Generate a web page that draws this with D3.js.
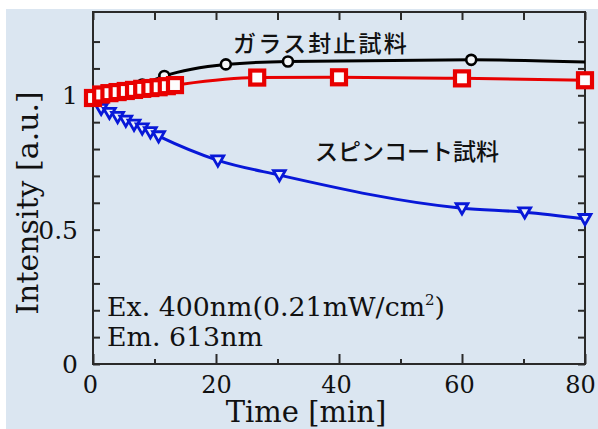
<!DOCTYPE html>
<html><head><meta charset="utf-8">
<script src="https://cdn.jsdelivr.net/npm/d3@7"></script>
<style>html,body{margin:0;padding:0;background:#fff;}svg{display:block;}</style>
</head><body>
<script>
// ---- data ----
const tBlack = [0, 4, 8, 11.6, 21.6, 31.7, 61.5, 84];
const vBlack = [1.0, 1.02, 1.04, 1.072, 1.115, 1.126, 1.132, 1.121];
const tRed = [0, 1.33, 2.67, 4, 5.33, 6.67, 8, 9.33, 10.67, 12, 13.33, 26.7, 40, 60, 80];
const vRed = [0.99, 1.003, 1.008, 1.012, 1.016, 1.02, 1.024, 1.027, 1.03, 1.034, 1.038, 1.066, 1.067, 1.063, 1.056];
const tBlue = [0, 1.33, 2.67, 4, 5.33, 6.67, 8, 9.33, 10.67, 20.3, 30.3, 60, 70.2, 80];
const vBlue = [1.0, 0.95, 0.935, 0.92, 0.906, 0.891, 0.877, 0.863, 0.848, 0.758, 0.703, 0.58, 0.565, 0.54];
const xMajor = [0, 20, 40, 60, 80];
const xMinor = [10, 30, 50, 70];
const yMajor = [0, 0.5, 1];
const yMajorLabels = ["0", "0.5", "1"];
const yMinor = [0.1, 0.2, 0.3, 0.4, 0.6, 0.7, 0.8, 0.9, 1.1, 1.2];
const labelGlass = "ガラス封止試料";
const labelSpin = "スピンコート試料";

const W = 598, H = 429;
const L = 93, R = 585, T = 12, B = 364;
const x = d3.scaleLinear().domain([0, 80]).range([L, R]);
const y = d3.scaleLinear().domain([0, 1.31]).range([B, T]);

const svg = d3.select("body").append("svg").attr("width", W).attr("height", H);
svg.append("rect").attr("x", 6).attr("y", 9).attr("width", W - 6).attr("height", H - 9).attr("fill", "#dbe6f1");

svg.append("defs").append("clipPath").attr("id", "clip")
  .append("rect").attr("x", L).attr("y", T).attr("width", R - L).attr("height", B - T);

const serif = "'DejaVu Serif', serif";
const axisCol = "#2a2a2a";

// axes (ticks inward on all sides)
const gB = svg.append("g").attr("transform", `translate(0,${B})`)
  .call(d3.axisBottom(x).tickValues(xMajor).tickSizeInner(-10).tickSizeOuter(0).tickPadding(12).tickFormat(d3.format("d")));
const gBm = svg.append("g").attr("transform", `translate(0,${B})`)
  .call(d3.axisBottom(x).tickValues(xMinor).tickSizeInner(-5).tickSizeOuter(0).tickFormat(""));
const gT = svg.append("g").attr("transform", `translate(0,${T})`)
  .call(d3.axisTop(x).tickValues(xMajor.concat(xMinor)).tickSizeInner(-8).tickSizeOuter(0).tickFormat(""));
const gL = svg.append("g").attr("transform", `translate(${L},0)`)
  .call(d3.axisLeft(y).tickValues(yMajor.concat(yMinor)).tickSizeInner(-7).tickSizeOuter(0).tickFormat(""));
const gR = svg.append("g").attr("transform", `translate(${R},0)`)
  .call(d3.axisRight(y).tickValues(yMajor.concat(yMinor)).tickSizeInner(-7).tickSizeOuter(0).tickFormat(""));
[gB, gBm, gT, gL, gR].forEach(g => {
  g.select(".domain").remove();
  g.selectAll(".tick line").attr("stroke", axisCol).attr("stroke-width", 2);
});
gB.selectAll(".tick text").attr("font-family", serif).attr("font-size", 24).attr("fill", "#111")
  .attr("dx", d => d === 80 ? -5 : (d === 20 ? 0 : -3));

// y tick labels
svg.append("g").selectAll("text").data(yMajor).join("text")
  .attr("x", L - 15).attr("y", d => y(d) + 9)
  .attr("text-anchor", "end").attr("font-family", serif).attr("font-size", 25).attr("fill", "#111")
  .text((d, i) => yMajorLabels[i]);

// frame
svg.append("rect").attr("x", L).attr("y", T).attr("width", R - L).attr("height", B - T)
  .attr("fill", "none").attr("stroke", axisCol).attr("stroke-width", 2);

const line = d3.line().x(d => x(d[0])).y(d => y(d[1])).curve(d3.curveMonotoneX);
const zip = (a, b) => a.map((t, i) => [t, b[i]]);

// blue
const blue = zip(tBlue, vBlue);
svg.append("path").datum(blue).attr("d", line).attr("fill", "none").attr("stroke", "#0818d8").attr("stroke-width", 3);
const tri = d3.symbol().type(d3.symbolTriangle).size(60);
svg.append("g").selectAll("path").data(blue).join("path")
  .attr("d", tri).attr("transform", d => `translate(${x(d[0])},${y(d[1]) - 1}) rotate(180)`)
  .attr("fill", "#e8eef8").attr("stroke", "#0818d8").attr("stroke-width", 2.8);

// black
const black = zip(tBlack, vBlack);
const gk = svg.append("g").attr("clip-path", "url(#clip)");
gk.append("path").datum(black).attr("d", line).attr("fill", "none").attr("stroke", "#000").attr("stroke-width", 3);
gk.selectAll("circle").data(black).join("circle")
  .attr("cx", d => x(d[0])).attr("cy", d => y(d[1])).attr("r", 5)
  .attr("fill", "#f4f6f8").attr("stroke", "#000").attr("stroke-width", 2.6);

// red
const red = zip(tRed, vRed);
svg.append("path").datum(red).attr("d", line).attr("fill", "none").attr("stroke", "#e80000").attr("stroke-width", 3);
svg.append("g").selectAll("rect").data(red).join("rect")
  .attr("x", d => x(d[0]) - 7).attr("y", d => y(d[1]) - 7).attr("width", 14).attr("height", 14)
  .attr("fill", "#fdfdfd").attr("stroke", "#e80000").attr("stroke-width", 4.2);

// series labels
const cjk = "'Noto Sans CJK JP', sans-serif";
svg.append("text").attr("x", 233).attr("y", 52).attr("font-family", cjk).attr("font-weight", 500)
  .attr("font-size", 23).attr("letter-spacing", 2.2).attr("fill", "#111").text(labelGlass);
svg.append("text").attr("x", 315).attr("y", 160).attr("font-family", cjk).attr("font-weight", 500)
  .attr("font-size", 23).attr("fill", "#111").text(labelSpin);

// annotation
const ann = svg.append("text").attr("x", 107).attr("y", 316).attr("font-family", serif).attr("font-size", 26.8).attr("fill", "#111");
ann.append("tspan").text("Ex. 400nm(0.21mW/cm");
ann.append("tspan").attr("font-size", 15).attr("dy", -11).text("2");
ann.append("tspan").attr("dy", 11).text(")");
svg.append("text").attr("x", 107).attr("y", 346).attr("font-family", serif).attr("font-size", 26.8).attr("fill", "#111")
  .text("Em. 613nm");

// axis titles
svg.append("text").attr("x", 306).attr("y", 422).attr("text-anchor", "middle").attr("font-family", serif)
  .attr("font-size", 29).attr("fill", "#111").text("Time [min]");
svg.append("text").attr("transform", "translate(38,203) rotate(-90)").attr("text-anchor", "middle")
  .attr("font-family", serif).attr("font-size", 30).attr("fill", "#111").text("Intensity [a.u.]");
</script>
</body></html>
